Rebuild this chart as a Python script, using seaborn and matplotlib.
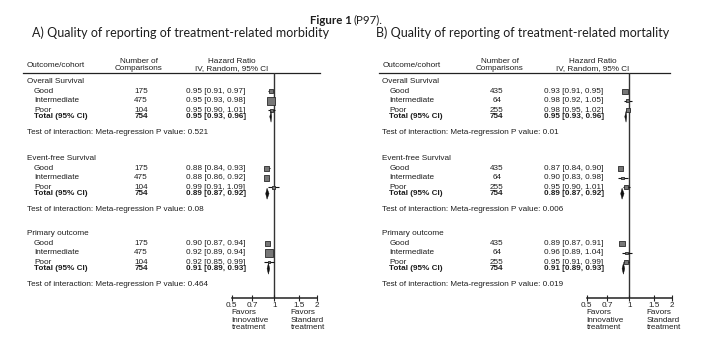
import numpy as np
import pandas as pd
import matplotlib
matplotlib.use("Agg")
import matplotlib.pyplot as plt
from matplotlib.ticker import NullLocator
import seaborn as sns

# ---------------- data ----------------
fig_title_bold = "Figure 1"
fig_title_rest = "(P97)."
outcomes = ["Overall Survival", "Event-free Survival", "Primary outcome"]
cohorts = ["Good", "Intermediate", "Poor"]
total_label = "Total (95% CI)"
test_prefix = "Test of interaction: Meta-regression P value: "

a_title = "A) Quality of reporting of treatment-related morbidity"
a_n = [175, 475, 104]
a_total_n = 754
# rows per outcome: Good, Intermediate, Poor, Total
a_hr = [[0.95, 0.95, 0.95, 0.95], [0.88, 0.88, 0.99, 0.89], [0.90, 0.92, 0.92, 0.91]]
a_lo = [[0.91, 0.93, 0.90, 0.93], [0.84, 0.86, 0.91, 0.87], [0.87, 0.89, 0.85, 0.89]]
a_hi = [[0.97, 0.98, 1.01, 0.96], [0.93, 0.92, 1.09, 0.92], [0.94, 0.94, 0.99, 0.93]]
a_p = ["0.521", "0.08", "0.464"]

b_title = "B) Quality of reporting of treatment-related mortality"
b_n = [435, 64, 255]
b_total_n = 754
b_hr = [[0.93, 0.98, 0.98, 0.95], [0.87, 0.90, 0.95, 0.89], [0.89, 0.96, 0.95, 0.91]]
b_lo = [[0.91, 0.92, 0.95, 0.93], [0.84, 0.83, 0.90, 0.87], [0.87, 0.89, 0.91, 0.89]]
b_hi = [[0.95, 1.05, 1.02, 0.96], [0.90, 0.98, 1.01, 0.92], [0.91, 1.04, 0.99, 0.93]]
b_p = ["0.01", "0.006", "0.019"]

ticks = [0.5, 0.7, 1, 1.5, 2]
tick_labels = ["0.5", "0.7", "1", "1.5", "2"]
col_outcome = "Outcome/cohort"
col_number = "Number of\nComparisons"
col_hr = "Hazard Ratio\nIV, Random, 95% CI"
favors_left = "Favors\nInnovative\ntreatment"
favors_right = "Favors\nStandard\ntreatment"

# ---------------- style (square side lengths in px) ----------------
a_sq = [[4.0, 8.0, 3.0], [4.5, 5.5, 3.0], [4.5, 7.5, 2.6]]
b_sq = [[5.5, 3.0, 4.5], [5.0, 2.6, 4.0], [5.5, 2.6, 4.0]]

W, H = 701, 354
fig = plt.figure(figsize=(W / 100, H / 100), dpi=100)
fig.patch.set_facecolor("white")
bg = fig.add_axes([0, 0, 1, 1])
bg.set_xlim(0, W)
bg.set_ylim(H, 0)
bg.axis("off")

TFONT = ["Liberation Sans", "DejaVu Sans"]
HFONT = ["Lato", "DejaVu Sans"]
FS = 5.9
TXT_C = "#1e1e1e"


def txt(x, y, s, fs=FS, family=TFONT, va="center", ha="left", **kw):
    bg.text(x, y, s, fontsize=fs, family=family, va=va, ha=ha, color=TXT_C, **kw)


# figure title
txt(351.5, 20, fig_title_bold, fs=8.3, family=HFONT, weight="bold", ha="right")
txt(354.0, 20, fig_title_rest, fs=8.3, family=HFONT)

SEC_Y = [81.7, 158.7, 233.7]
ROW_OFF = [9.8, 19.2, 28.5, 35.0]
TEST_OFF = 50.5
Y_TOP, Y_AXIS = 73.0, 298.3


def panel(title, tx, L, n, total_n, hr, lo, hi, pv, sq):
    txt(tx, 32.5, title, fs=9.0, family=HFONT)
    # header
    txt(L["sec"], 65.5, col_outcome)
    txt(L["num_h"], 64.8, col_number, ha="center", linespacing=1.0)
    txt(L["hr_h"], 64.8, col_hr, ha="center", linespacing=1.0)
    bg.plot([L["line0"], L["line1"]], [Y_TOP, Y_TOP], color="#222", lw=0.9)

    rows = []
    for i, oc in enumerate(outcomes):
        y0 = SEC_Y[i]
        txt(L["sec"], y0, oc)
        for j in range(4):
            y = y0 + ROW_OFF[j]
            bold = j == 3
            lab = cohorts[j] if j < 3 else total_label
            nn = n[j] if j < 3 else total_n
            w = "bold" if bold else "normal"
            txt(L["sub"], y, lab, weight=w)
            txt(L["num"], y, str(nn), ha="center", weight=w)
            txt(L["hrt"], y, f"{hr[i][j]:.2f} [{lo[i][j]:.2f}, {hi[i][j]:.2f}]", weight=w)
            rows.append(dict(outcome=oc, kind="total" if bold else "study", y=y,
                             hr=hr[i][j], lo=lo[i][j], hi=hi[i][j],
                             side=(sq[i][j] if j < 3 else np.nan)))
        txt(L["sec"], y0 + TEST_OFF, test_prefix + pv[i])
    df = pd.DataFrame(rows)

    x0, x1 = L["ax0"], L["ax1"]
    ax = fig.add_axes([x0 / W, 1 - Y_AXIS / H, (x1 - x0) / W, (Y_AXIS - Y_TOP) / H])
    ax.patch.set_alpha(0)
    ax.set_xscale("log")
    ax.set_xlim(ticks[0], ticks[-1])
    ax.set_ylim(Y_AXIS, Y_TOP)
    ax.set_xticks(ticks)
    ax.set_xticklabels(tick_labels, family=TFONT, fontsize=FS, color=TXT_C)
    ax.xaxis.set_minor_locator(NullLocator())
    ax.set_yticks([])
    for s in ["top", "right", "left"]:
        ax.spines[s].set_visible(False)
    ax.spines["bottom"].set_linewidth(1.1)
    ax.spines["bottom"].set_color("#222")
    ax.tick_params(axis="x", direction="inout", length=5, width=0.8, pad=0.5, colors="#222")
    ax.axvline(1, color="#333", lw=1.0, zorder=1)

    st = df[df.kind == "study"]
    ax.hlines(st.y, st.lo, st.hi, color="#111", lw=0.8, zorder=2)
    sns.scatterplot(x=st.hr.values, y=st.y.values, s=(st.side.values * 0.72) ** 2,
                    marker="s", color="#777777", edgecolor="#2a2a2a", linewidth=0.6,
                    legend=False, ax=ax, zorder=3)
    tt = df[df.kind == "total"]
    for _, r in tt.iterrows():
        ax.fill([r.lo, r.hr, r.hi, r.hr], [r.y, r.y - 5.5, r.y, r.y + 5.5],
                color="#111", zorder=3, lw=0.3, edgecolor="#111")
    ax.set_xlabel("")
    ax.set_ylabel("")
    txt(x0, 309.0, favors_left, va="top", linespacing=1.12)
    txt(L["fav_r"], 309.0, favors_right, va="top", linespacing=1.12)


LA = dict(sec=26.7, sub=34.0, num=141.0, num_h=138.5, hr_h=232.0, hrt=186.0,
          line0=23.0, line1=320.0, ax0=231.7, ax1=316.7, fav_r=290.5)
LB = dict(sec=382.3, sub=389.3, num=496.7, num_h=499.7, hr_h=592.5, hrt=544.0,
          line0=379.0, line1=670.0, ax0=586.7, ax1=671.7, fav_r=646.5)

panel(a_title, 32.0, LA, a_n, a_total_n, a_hr, a_lo, a_hi, a_p, a_sq)
panel(b_title, 375.7, LB, b_n, b_total_n, b_hr, b_lo, b_hi, b_p, b_sq)

fig.savefig("out.png", dpi=100, facecolor="white")
